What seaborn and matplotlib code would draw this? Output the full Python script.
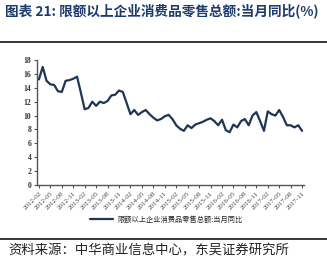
import matplotlib
matplotlib.use("Agg")
import matplotlib.pyplot as plt
import seaborn as sns
import pandas as pd
from matplotlib.lines import Line2D

sns.set_theme(style="white")
plt.rcParams['font.family'] = ['Liberation Serif', 'Noto Sans CJK SC', 'DejaVu Sans']

# Categories: monthly from 2012-02 to 2017-11
months = ([f"2012-{m:02d}" for m in range(2, 13)]
          + [f"{y}-{m:02d}" for y in range(2013, 2017) for m in range(1, 13)]
          + [f"2017-{m:02d}" for m in range(1, 12)])

values = [15.2, 17.0, 15.0, 14.5, 14.4, 13.5, 13.4, 15.0, 15.1, 15.3,
          15.6, 13.3, 10.9, 11.1, 12.0, 11.4, 12.0, 11.8, 12.1, 12.9,
          13.0, 13.6, 13.4, 11.8, 10.2, 10.8, 10.1, 10.5, 10.8, 10.2,
          9.7, 9.3, 9.5, 9.9, 10.1, 9.5, 8.6, 8.1, 7.8, 8.6,
          8.2, 8.7, 8.9, 9.1, 9.4, 9.6, 9.2, 8.6, 9.4, 7.9,
          7.6, 8.7, 8.3, 9.2, 9.5, 8.6, 10.0, 10.5, 9.2, 7.8,
          10.6, 10.2, 10.0, 10.8, 9.8, 8.6, 8.6, 8.3, 8.6, 7.8]

series_name = "限额以上企业消费品零售总额:当月同比"
title = "图表 21: 限额以上企业消费品零售总额:当月同比(%)"
source = "资料来源：中华商业信息中心，东吴证券研究所"
yticks = [0, 2, 4, 6, 8, 10, 12, 14, 16, 18]
tick_months = months[::3]

df = pd.DataFrame({"idx": range(len(months)), "month": months, "value": values})

W, H = 327, 259
fig = plt.figure(figsize=(W / 100, H / 100), dpi=100)
ax = fig.add_axes([37 / W, 1 - 185 / H, (304 - 37) / W, (185 - 60) / H])

line_color = "#1f3553"
sns.lineplot(data=df, x="idx", y="value", ax=ax, color=line_color,
             linewidth=1.6, label=series_name, legend=False)

ax.set_xlim(-0.5, len(months) - 0.5)
ax.set_ylim(0, 18)
ax.set_yticks(yticks)
ax.set_yticklabels([str(v) for v in yticks], fontsize=5.5, fontweight="bold",
                   color="#333333")
ax.set_xticks(range(0, len(months), 3))
ax.set_xticklabels(tick_months, rotation=45, ha="right", rotation_mode="anchor",
                   fontsize=5, color="#444444")
ax.set_xlabel("")
ax.set_ylabel("")
for s in ["top", "right"]:
    ax.spines[s].set_visible(False)
for s in ["left", "bottom"]:
    ax.spines[s].set_color("#555555")
    ax.spines[s].set_linewidth(1.0)
ax.tick_params(axis="both", direction="out", length=2.5, width=0.8,
               color="#555555", pad=1.5, left=True, bottom=True)
ax.grid(False)

handle = Line2D([], [], color=line_color, linewidth=1.6)
fig.legend([handle], [series_name], loc="center",
           bbox_to_anchor=(166 / W, 1 - 220 / H), frameon=False,
           handlelength=3.3, handletextpad=0.5,
           prop={"family": ["Noto Sans CJK SC"], "size": 5.2})

fig.text(5 / W, 1 - 11 / H, title, fontsize=9.8, fontweight="bold",
         color="#1c3a6e", family=["Noto Sans CJK SC", "DejaVu Sans"], va="center")
fig.add_artist(Line2D([0, 1], [1 - 41.5 / H] * 2, color="black", lw=1.1,
                      transform=fig.transFigure))
fig.add_artist(Line2D([0, 1], [1 - 239.3 / H] * 2, color="black", lw=1.1,
                      transform=fig.transFigure))
fig.text(8 / W, 1 - 250 / H, source, fontsize=9.6, color="#222222",
         family=["Noto Sans CJK SC", "DejaVu Sans"], va="center")

fig.savefig("out.png", dpi=100)
